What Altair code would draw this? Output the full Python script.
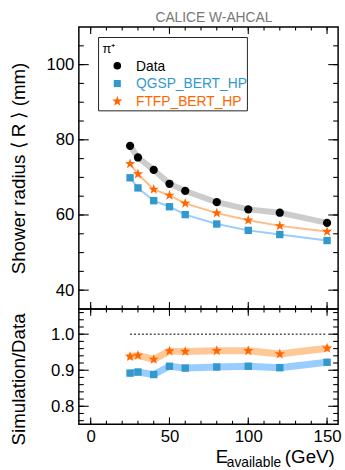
import altair as alt
import pandas as pd

# ---------------- data ----------------
energy = [25, 30, 40, 50, 60, 80, 100, 120, 150]
data_r = [78.4, 75.3, 72.0, 68.3, 66.4, 63.4, 61.5, 60.6, 57.9]
qgsp_r = [69.9, 67.2, 63.8, 62.2, 60.1, 57.6, 55.9, 54.8, 53.2]
ftfp_r = [73.6, 70.9, 66.8, 65.2, 63.1, 60.5, 58.6, 57.1, 55.6]
qgsp_ratio = [0.892, 0.895, 0.888, 0.911, 0.906, 0.909, 0.911, 0.907, 0.922]
ftfp_ratio = [0.938, 0.941, 0.930, 0.953, 0.952, 0.954, 0.954, 0.945, 0.961]

legend_labels = ["Data", "QGSP_BERT_HP", "FTFP_BERT_HP"]
x_label_values = [0, 50, 100, 150]
top_label_values = [40, 60, 80, 100]
bot_label_values = [0.8, 0.9, 1.0]
x_minor = list(range(0, 151, 10))
x_major = [0, 50, 100, 150]
top_minor = list(range(40, 110, 5))
top_major = [40, 60, 80, 100]
bot_minor = [round(0.76 + 0.02 * i, 2) for i in range(16)]
bot_major = [0.8, 0.9, 1.0]
ref_x = [25, 150]
ref_y = 1.0

# ---------------- style ----------------
W = 263
H_TOP = 286
H_BOT = 117
FONT = "Liberation Sans"
BLACK = "black"
BLUE = "#3399cc"
ORANGE = "#ff6600"
BLUE_BAND = "#99ccff"
ORANGE_BAND = "#ffc896"
GREY_BAND = "#cccccc"
STAR = ("M0,-1L0.235,-0.324L0.951,-0.309L0.38,0.124L0.588,0.809L0,0.4"
        "L-0.588,0.809L-0.38,0.124L-0.951,-0.309L-0.235,-0.324Z")

x_dom = [-7.5, 157]
top_dom = [35, 110]
bot_dom = [0.75, 1.07]


def df_xy(xs, ys):
    return pd.DataFrame({"x": xs, "y": ys})


def make_x(axis):
    return alt.X("x:Q", scale=alt.Scale(domain=x_dom, nice=False, zero=False), axis=axis)


def make_y(dom, axis):
    return alt.Y("y:Q", scale=alt.Scale(domain=dom, nice=False, zero=False), axis=axis)


top_x = make_x(None)
bot_x = make_x(alt.Axis(values=x_label_values, title=None, labelPadding=4,
                        labelFlush=False))
top_y = make_y(top_dom, alt.Axis(values=top_label_values, title="Shower radius ⟨ R ⟩ (mm)",
                                 titleX=-61.5, titleY=H_TOP / 2, titleBaseline="middle",
                                 labelPadding=5))
bot_y = make_y(bot_dom, alt.Axis(values=bot_label_values, format=".1f",
                                 title="Simulation/Data",
                                 titleX=-61.5, titleY=71, titleBaseline="middle",
                                 labelPadding=5))


def tick_layers(xenc, yenc, H, xmin, xmaj, ymin, ymaj, xl=(3.5, 7), yl=(5, 10)):
    layers = []
    for vals, L in ((xmin, xl[0]), (xmaj, xl[1])):
        d = pd.DataFrame({"x": vals})
        layers.append(alt.Chart(d).mark_rule(color=BLACK, strokeWidth=1.1).encode(
            x=xenc, y=alt.value(0), y2=alt.value(L)))
        layers.append(alt.Chart(d).mark_rule(color=BLACK, strokeWidth=1.1).encode(
            x=xenc, y=alt.value(H), y2=alt.value(H - L)))
    for vals, L in ((ymin, yl[0]), (ymaj, yl[1])):
        d = pd.DataFrame({"y": vals})
        layers.append(alt.Chart(d).mark_rule(color=BLACK, strokeWidth=1.1).encode(
            y=yenc, x=alt.value(0), x2=alt.value(L)))
        layers.append(alt.Chart(d).mark_rule(color=BLACK, strokeWidth=1.1).encode(
            y=yenc, x=alt.value(W), x2=alt.value(W - L)))
    return layers


def series(xenc, yenc, ys, line_color, line_width, shape, color, size):
    d = df_xy(energy, ys)
    line = alt.Chart(d).mark_line(color=line_color, strokeWidth=line_width,
                                  strokeJoin="round", strokeCap="round").encode(x=xenc, y=yenc)
    pts = alt.Chart(d).mark_point(filled=True, shape=shape, color=color, size=size,
                                  opacity=1).encode(x=xenc, y=yenc)
    return line, pts


one = alt.Data(values=[{}])

# ---------------- top panel ----------------
l_data, p_data = series(top_x, top_y, data_r, GREY_BAND, 6, "circle", BLACK, 70)
l_q, p_q = series(top_x, top_y, qgsp_r, BLUE_BAND, 2, "square", BLUE, 56)
l_f, p_f = series(top_x, top_y, ftfp_r, "#ffbb88", 2, STAR, ORANGE, 120)

legend_box = alt.Chart(one).mark_rect(fill=None, stroke="#222222", strokeWidth=1).encode(
    x=alt.value(20), x2=alt.value(171), y=alt.value(10.6), y2=alt.value(85))
legend_pi = alt.Chart(one).mark_text(text="π⁺", font=FONT, fontSize=13, align="left",
                                     baseline="alphabetic", color=BLACK).encode(
    x=alt.value(24), y=alt.value(26))
legend_items = []
for i, (lab, col, shp, sz) in enumerate(zip(legend_labels, [BLACK, BLUE, ORANGE],
                                            ["circle", "square", STAR], [60, 52, 120])):
    yy = 39.3 + 18 * i
    legend_items.append(alt.Chart(one).mark_point(filled=True, shape=shp, color=col, size=sz,
                                                  opacity=1).encode(
        x=alt.value(39), y=alt.value(yy)))
    legend_items.append(alt.Chart(one).mark_text(text=lab, font=FONT, fontSize=14, align="left",
                                                 baseline="middle", color=col).encode(
        x=alt.value(58), y=alt.value(yy + 1)))

title_txt = alt.Chart(one).mark_text(text="CALICE W-AHCAL", font=FONT, fontSize=14,
                                     align="center", baseline="alphabetic",
                                     color="#777777").encode(
    x=alt.value(137), y=alt.value(-5.4))

top_layers = [l_data, l_f, l_q, p_data, p_q, p_f,
              legend_box, legend_pi] + legend_items + [title_txt] + \
    tick_layers(top_x, top_y, H_TOP, x_minor, x_major, top_minor, top_major)
top = alt.layer(*top_layers).properties(width=W, height=H_TOP)

# ---------------- bottom panel ----------------
ref = alt.Chart(pd.DataFrame({"x": [ref_x[0]], "x2": [ref_x[1]], "y": [ref_y]})).mark_rule(
    color="#555555", strokeWidth=1.6, strokeDash=[2, 2]).encode(
    x=bot_x, x2="x2:Q", y=bot_y)
lb_f, pb_f = series(bot_x, bot_y, ftfp_ratio, ORANGE_BAND, 7, STAR, ORANGE, 120)
lb_q, pb_q = series(bot_x, bot_y, qgsp_ratio, BLUE_BAND, 7, "square", BLUE, 56)

xt_E = alt.Chart(one).mark_text(text="E", font=FONT, fontSize=19, align="left",
                                baseline="alphabetic", color=BLACK).encode(
    x=alt.value(139), y=alt.value(156))
xt_sub = alt.Chart(one).mark_text(text="available", font=FONT, fontSize=14, align="left",
                                  baseline="alphabetic", color=BLACK).encode(
    x=alt.value(150), y=alt.value(160))
xt_unit = alt.Chart(one).mark_text(text="(GeV)", font=FONT, fontSize=19, align="left",
                                   baseline="alphabetic", color=BLACK).encode(
    x=alt.value(209), y=alt.value(156))

bot_layers = [ref, lb_f, lb_q, pb_f, pb_q, xt_E, xt_sub, xt_unit] + \
    tick_layers(bot_x, bot_y, H_BOT, x_minor, x_major, bot_minor, bot_major)
bot = alt.layer(*bot_layers).properties(width=W, height=H_BOT)

chart = alt.vconcat(top, bot, spacing=0, bounds="flush").properties(
    padding={"left": 8, "top": 6, "right": 3, "bottom": 0},
    autosize=alt.AutoSizeParams(type="pad"),
    background="white",
).configure_view(
    stroke=BLACK, strokeWidth=1.5
).configure_axis(
    grid=False, ticks=False, domain=False,
    labelFont=FONT, labelFontSize=17, labelColor=BLACK,
    titleFont=FONT, titleFontSize=19, titleFontWeight="normal", titleColor=BLACK,
)

chart.save("out.html", embed_options={"renderer": "svg", "actions": False})
